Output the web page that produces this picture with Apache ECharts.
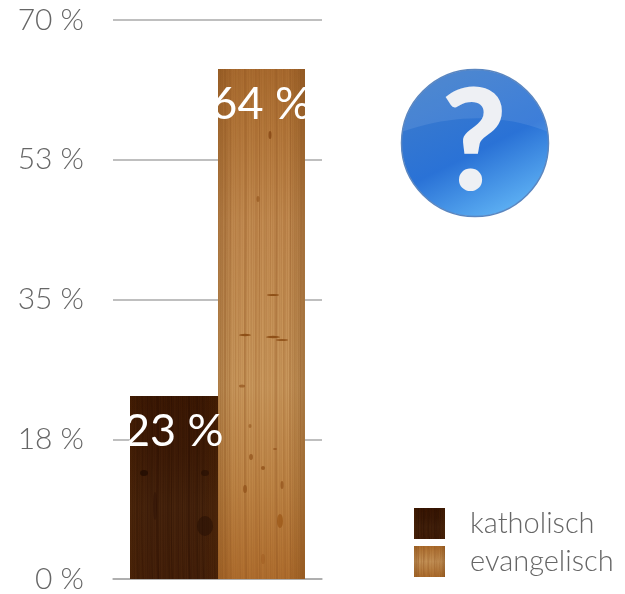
<!DOCTYPE html>
<html><head><meta charset="utf-8">
<style>html,body{margin:0;padding:0;background:#fff}#c{width:625px;height:594px}</style>
<script src="https://cdn.jsdelivr.net/npm/echarts@6/dist/echarts.min.js"></script></head>
<body><div id="c"></div>
<script>
const categories = ['Konfession'];
const seriesNames = ['katholisch', 'evangelisch'];
const katholisch = [23];
const evangelisch = [64];
const axisMax = 70;
const axisStep = 17.5;

// Wood texture: fixed grain tables, no randomness.
const grainSteps = [3,7,12,18,21,27,33,38,41,47,52,58,63,66,72,77,83];
const fineAlpha = [.10,.02,.16,.05,.20,.00,.08,.14,.03,.18,.06,.12,.01];
function wood(w, h, stops, grainColor, grainAlpha, knots) {
  const c = document.createElement('canvas'); c.width = w; c.height = h;
  const g = c.getContext('2d');
  const lg = g.createLinearGradient(0, 0, 0, h);
  stops.forEach(s => lg.addColorStop(s[0], s[1]));
  g.fillStyle = lg; g.fillRect(0, 0, w, h);
  g.fillStyle = grainColor;
  for (let x = 0; x < w; x++) {
    g.globalAlpha = fineAlpha[x % fineAlpha.length];
    g.fillRect(x, 0, 1, h);
  }
  g.strokeStyle = grainColor;
  grainSteps.forEach((x, i) => {
    g.globalAlpha = grainAlpha * (0.3 + (i % 3) * 0.35);
    g.lineWidth = 1 + (i % 2);
    const px = x / 87 * w;
    g.beginPath(); g.moveTo(px, 0);
    g.bezierCurveTo(px + 2, h * .3, px - 2, h * .6, px + 1, h); g.stroke();
  });
  // darker edges
  g.globalAlpha = 1;
  const side = g.createLinearGradient(0, 0, w, 0);
  side.addColorStop(0, 'rgba(90,45,5,.22)');
  side.addColorStop(.2, 'rgba(90,45,5,0)');
  side.addColorStop(.8, 'rgba(90,45,5,0)');
  side.addColorStop(1, 'rgba(90,45,5,.28)');
  g.fillStyle = side; g.fillRect(0, 0, w, h);
  (knots || []).forEach(k => {
    g.fillStyle = k[4]; g.globalAlpha = k[5];
    g.beginPath(); g.ellipse(k[0], k[1], k[2], k[3], 0, 0, Math.PI * 2); g.fill();
  });
  g.globalAlpha = 1;
  return c;
}
const darkStops = [[0,'#3d1904'],[.3,'#3f1c07'],[.6,'#47240d'],[1,'#46210a']];
const lightStops = [[0,'#aa6c30'],[.12,'#b5793c'],[.3,'#c38c52'],[.62,'#cb9a5f'],[.82,'#bf8647'],[1,'#b06e2e']];
const lightKnots = [
  [55,226,6,1,'#8a4a12',.9],[27,266,6,1.2,'#8a4a12',.9],[55,268,7,1.2,'#8a4a12',.9],[64,271,6,1,'#8a4a12',.8],
  [24,317,3,1.5,'#8a4a12',.6],[52,66,1.5,4,'#80400e',.7],[40,130,1.5,3,'#8a4a12',.5],
  [32,357,1.5,2,'#8a4a12',.5],[33,388,2,3,'#8a4a12',.6],[45,399,2,2,'#8a4a12',.7],[57,380,2,1,'#8a4a12',.6],
  [27,420,2,4,'#8a4a12',.6],[64,416,1.5,4,'#8a4a12',.6],[62,452,3,7,'#96500f',.6],[45,490,2,5,'#a05c20',.5]
];
const darkKnots = [[14,77,4,3,'#1e0a02',.7],[75,77,4,3,'#1e0a02',.5],[75,130,8,10,'#230d03',.5],[25,110,2,14,'#2a1004',.4]];
const darkTex = wood(88, 184, darkStops, '#240c01', .35, darkKnots);
const lightTex = wood(87, 511, lightStops, '#8f5420', .35, lightKnots);
// The pattern is anchored on the page: draw it shifted into bar position.
function anchored(tex, x, y) {
  const c = document.createElement('canvas'); c.width = 625; c.height = 594;
  c.getContext('2d').drawImage(tex, x, y);
  return c;
}
const darkFill = { image: anchored(darkTex, 130, 396), repeat: 'no-repeat' };
const lightFill = { image: anchored(lightTex, 218, 69), repeat: 'no-repeat' };
const darkSwatch = { image: wood(31, 31, darkStops, '#240c01', .35), repeat: 'repeat' };
const lightSwatch = { image: wood(31, 31, [[0,'#b0702f'],[.5,'#cb9a5f'],[1,'#b0702f']], '#8f5420', .35), repeat: 'repeat' };

// Gloss outline on the icon: top arc of the disc closed by a shallow curve.
const glossPts = [];
for (let a = 189; a <= 351; a += 3) {
  const t = a * Math.PI / 180;
  glossPts.push([475 + 73 * Math.cos(t), 143 + 73 * Math.sin(t)]);
}
const gEnd = glossPts[glossPts.length - 1], gStart = glossPts[0];
for (let s = 1; s < 20; s++) {
  const t = s / 20, ctrl = [480, 105];
  glossPts.push([
    (1-t)*(1-t)*gEnd[0] + 2*t*(1-t)*ctrl[0] + t*t*gStart[0],
    (1-t)*(1-t)*gEnd[1] + 2*t*(1-t)*ctrl[1] + t*t*gStart[1]
  ]);
}

const FONT = 'Lato';
const chart = echarts.init(document.getElementById('c'), null, { renderer: 'canvas' });
const labelStyle = { show: true, position: 'insideTop', distance: 14, formatter: '{c} %', color: '#fff', fontFamily: FONT, fontSize: 45, fontWeight: 400 };
chart.setOption({
  animation: false,
  grid: { left: 113, top: 20, width: 209, height: 560, containLabel: false },
  legend: {
    orient: 'vertical', left: 409, top: 503, itemWidth: 31, itemHeight: 31, itemGap: 7,
    textStyle: { color: '#666', fontFamily: FONT, fontSize: 29, fontWeight: 300, padding: [0, 0, 0, 20] },
    data: [
      { name: seriesNames[0], icon: 'rect', itemStyle: { color: darkSwatch } },
      { name: seriesNames[1], icon: 'rect', itemStyle: { color: lightSwatch } }
    ]
  },
  xAxis: { type: 'category', data: categories, axisTick: { show: false }, axisLabel: { show: false },
    axisLine: { lineStyle: { color: '#aaa', width: 1.5 } } },
  yAxis: { type: 'value', min: 0, max: axisMax, interval: axisStep,
    axisLine: { show: false }, axisTick: { show: false },
    axisLabel: { margin: 29, color: '#666', fontFamily: FONT, fontSize: 30, fontWeight: 300, padding: [3, 0, 0, 0],
      formatter: v => Math.round(v) + ' %' },
    splitLine: { lineStyle: { color: '#aaa', width: 1.5 } } },
  series: [
    { name: seriesNames[0], type: 'bar', data: katholisch, barWidth: 88.5, barGap: '-1.2%', itemStyle: { color: darkFill }, label: labelStyle },
    { name: seriesNames[1], type: 'bar', data: evangelisch, barWidth: 88.5, barGap: '-1.2%', itemStyle: { color: lightFill }, label: labelStyle }
  ],
  graphic: [
    { type: 'circle', shape: { cx: 475, cy: 143, r: 73.5 }, z: 5,
      style: { stroke: '#5a86c0', lineWidth: 1.5,
        fill: { type: 'linear', x: .25, y: 0, x2: .75, y2: 1, colorStops: [
          { offset: 0, color: '#3e7ccb' }, { offset: .55, color: '#2a72d6' }, { offset: 1, color: '#62b6f6' } ] } } },
    { type: 'polygon', z: 6, shape: { points: glossPts },
      style: { fill: 'rgba(255,255,255,0.09)' } },
    { type: 'text', z: 7, style: { text: '?', x: 474, y: 144, align: 'center', verticalAlign: 'middle',
      fontFamily: 'Lato', fontWeight: 900, fontSize: 142, fill: '#eef0f4' } }
  ]
});
</script></body></html>
